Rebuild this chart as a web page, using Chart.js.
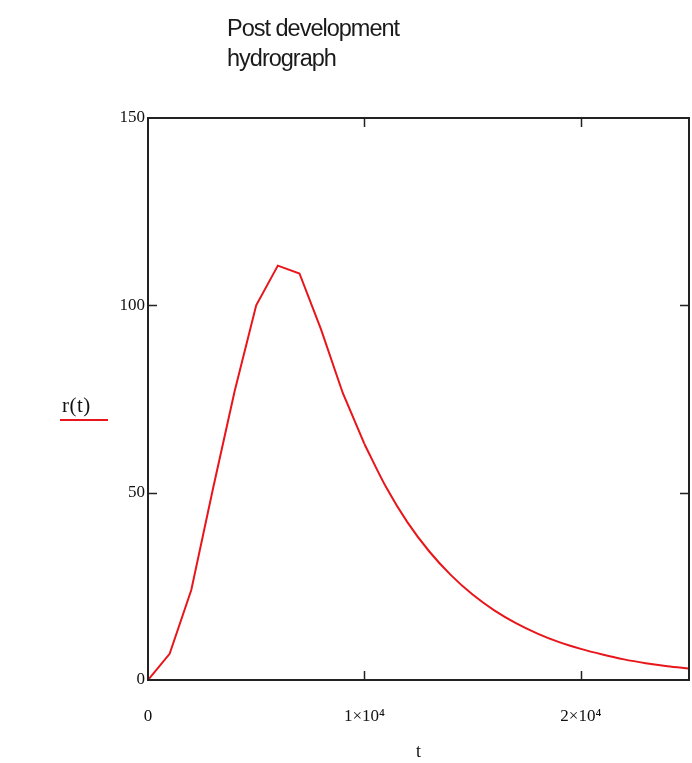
<!DOCTYPE html>
<html>
<head>
<meta charset="utf-8">
<script src="https://cdn.jsdelivr.net/npm/chart.js@4.4.1/dist/chart.umd.min.js"></script>
<style>
  html, body { margin: 0; padding: 0; background: #fff; }
  #wrap { position: relative; width: 692px; height: 763px; }
  #title {
    position: absolute; left: 227px; top: 13px;
    font-family: "Liberation Sans", Arial, sans-serif; font-size: 23.5px;
    line-height: 30px; color: #1a1a1a; letter-spacing: -1px;
  }
  #ylab {
    position: absolute; left: 60px; top: 393px; width: 46px;
    font-family: "Liberation Serif", serif; font-size: 21px; color: #111;
    padding-left: 2px; letter-spacing: 0.5px;
  }
  #ylab span { display: block; height: 2px; background: #e8161b; margin-top: 1px; margin-left: -2px; }
</style>
</head>
<body>
<div id="wrap">
  <canvas id="hydro" width="692" height="763"></canvas>
  <div id="title">Post development<br>hydrograph</div>
  <div id="ylab">r(t)<span></span></div>
</div>
<script>
  // time in seconds, runoff r(t)
  const tValues = [0, 1000, 2000, 3000, 4000, 5000, 6000, 7000, 8000, 9000, 10000,
                   11000, 12000, 13000, 14000, 15000, 16000, 17000, 18000, 19000, 20000,
                   21000, 22000, 23000, 24000, 25000];
  const rValues = [0, 7, 24, 51, 77, 100, 110.6, 108.5, 93.5, 76.6, 63,
                   51.5, 42, 34.3, 28, 22.8, 18.6, 15.2, 12.4, 10.1, 8.3,
                   6.8, 5.5, 4.5, 3.7, 3.1];
  const xTicks = [0, 10000, 20000];
  const xTickLabels = ['0', '1×10⁴', '2×10⁴'];
  const yTicks = [0, 50, 100, 150];

  // rising limb is piecewise, recession after 1e4 is a smooth curve
  const splitAt = tValues.indexOf(10000);
  const points = tValues.map((t, i) => ({ x: t, y: rValues[i] }));
  const risePoints = points.slice(0, splitAt + 1);
  const recessPoints = points.slice(splitAt);

  // Mathcad style frame with inward ticks on all four sides
  const framePlugin = {
    id: 'frame',
    afterDraw(chart) {
      const { ctx, chartArea: a, scales } = chart;
      ctx.save();
      ctx.strokeStyle = '#222';
      ctx.lineWidth = 2;
      ctx.strokeRect(a.left, a.top, a.right - a.left, a.bottom - a.top);
      ctx.lineWidth = 1.5;
      const len = 9;
      xTicks.forEach(v => {
        if (v === 0) return;
        const px = Math.round(scales.x.getPixelForValue(v)) + 0.5;
        ctx.beginPath();
        ctx.moveTo(px, a.bottom); ctx.lineTo(px, a.bottom - len);
        ctx.moveTo(px, a.top); ctx.lineTo(px, a.top + len);
        ctx.stroke();
      });
      yTicks.forEach(v => {
        if (v === 0 || v === 150) return;
        const py = Math.round(scales.y.getPixelForValue(v)) + 0.5;
        ctx.beginPath();
        ctx.moveTo(a.left, py); ctx.lineTo(a.left + len, py);
        ctx.moveTo(a.right, py); ctx.lineTo(a.right - len, py);
        ctx.stroke();
      });
      ctx.restore();
    }
  };

  const lineStyle = {
    borderColor: '#e8161b',
    borderWidth: 2,
    pointRadius: 0,
    fill: false
  };

  new Chart(document.getElementById('hydro'), {
    type: 'line',
    data: {
      datasets: [
        Object.assign({ label: 'r(t)', data: risePoints, tension: 0 }, lineStyle),
        Object.assign({ label: 'r(t) recession', data: recessPoints, cubicInterpolationMode: 'monotone' }, lineStyle)
      ]
    },
    options: {
      responsive: false,
      animation: false,
      layout: { padding: { top: 118, right: 3, left: 0, bottom: 0 } },
      plugins: {
        legend: { display: false },
        tooltip: { enabled: false }
      },
      scales: {
        x: {
          type: 'linear',
          min: 0,
          max: 25000,
          afterBuildTicks: s => { s.ticks = xTicks.map(v => ({ value: v })); },
          afterFit: s => { s.height = 83; },
          grid: { display: false, drawTicks: false },
          border: { display: false },
          ticks: {
            padding: 26,
            maxRotation: 0,
            autoSkip: false,
            color: '#111',
            font: { family: 'Liberation Serif', size: 17 },
            callback: v => xTickLabels[xTicks.indexOf(v)]
          },
          title: {
            display: true,
            text: 't',
            color: '#111',
            font: { family: 'Liberation Serif', size: 18 },
            padding: { top: 6, bottom: 0 }
          }
        },
        y: {
          type: 'linear',
          min: 0,
          max: 150,
          afterBuildTicks: s => { s.ticks = yTicks.map(v => ({ value: v })); },
          afterFit: s => { s.width = 148; },
          grid: { display: false, drawTicks: false },
          border: { display: false },
          ticks: {
            padding: 3,
            color: '#111',
            font: { family: 'Liberation Serif', size: 17 }
          }
        }
      }
    },
    plugins: [framePlugin]
  });
</script>
</body>
</html>
